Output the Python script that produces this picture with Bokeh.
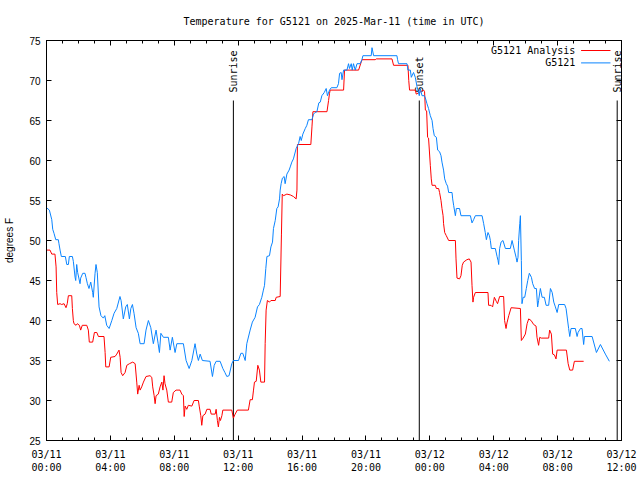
import math
from bokeh.plotting import figure
from bokeh.models import LinearAxis, FixedTicker, Range1d, Label, Arrow
from bokeh.core.properties import value
from bokeh.embed import file_html
from bokeh.resources import INLINE

# Hours since 2025-03-11 00:00 UTC
obs_hours = [0.00, 0.18, 0.33, 0.39, 0.47, 0.58, 0.74, 0.78, 0.85, 0.93, 1.18, 1.27, 1.37, 1.43, 1.62, 1.68,
             1.79, 1.83, 1.89, 1.95, 2.10, 2.14, 2.27, 2.41, 2.47, 2.56, 2.66, 2.77, 2.89, 2.93, 3.04, 3.10,
             3.18, 3.29, 3.41, 3.56, 3.65, 3.77, 3.92, 4.09, 4.23, 4.40, 4.60, 4.67, 4.81, 4.96, 5.06, 5.19,
             5.28, 5.38, 5.48, 5.61, 5.75, 5.86, 6.11, 6.23, 6.38, 6.53, 6.69, 6.86, 6.99, 7.07, 7.16, 7.32,
             7.63, 7.74, 7.88, 8.05, 8.16, 8.57, 8.74, 8.93, 9.10, 9.30, 9.41, 9.51, 9.62, 9.76, 10.24, 10.39,
             10.50, 10.62, 10.87, 11.04, 11.17, 11.29, 11.43, 11.60, 11.70, 12.02, 12.17, 12.29, 12.44, 12.54,
             12.75, 12.89, 13.06, 13.21, 13.33, 13.48, 13.58, 13.65, 13.73, 13.80, 13.96, 14.05, 14.15, 14.21,
             14.32, 14.42, 14.50, 14.59, 14.63, 14.69, 14.77, 14.88, 14.94, 15.05, 15.19, 15.26, 15.36, 15.46,
             15.63, 15.78, 15.88, 15.95, 16.05, 16.20, 16.30, 16.40, 16.62, 16.72, 16.82, 16.93, 17.05, 17.14,
             17.24, 17.39, 17.51, 17.59, 17.72, 17.83, 18.18, 18.28, 18.35, 18.45, 18.50, 18.60, 18.81, 18.91,
             18.97, 19.08, 19.14, 19.22, 19.33, 19.44, 19.64, 19.75, 19.81, 20.33, 20.38, 20.48, 21.94, 21.98,
             22.04, 22.57, 22.63, 22.78, 22.84, 22.98, 23.09, 23.20, 23.26, 23.34, 23.40, 23.51, 23.65, 23.71,
             23.82, 23.92, 24.03, 24.14, 24.20, 24.28, 24.41, 24.49, 24.61, 24.70, 24.76, 24.86, 24.93, 25.03,
             25.11, 25.18, 25.39, 25.43, 25.49, 25.60, 25.66, 25.86, 25.95, 26.54, 26.64, 26.74, 26.85, 27.27,
             27.37, 27.47, 27.54, 27.64, 27.73, 27.79, 27.85, 28.10, 28.21, 28.27, 28.31, 28.37, 28.46, 28.58,
             28.73, 29.04, 29.15, 29.29, 29.40, 29.46, 29.52, 29.56, 29.63, 29.67, 29.73, 29.77, 29.84, 29.94,
             30.04, 30.13, 30.23, 30.36, 30.44, 30.56, 30.67, 30.75, 30.81, 30.92, 31.03, 31.17, 31.28, 31.44,
             31.55, 31.66, 31.76, 31.86, 31.97, 32.07, 32.44, 32.53, 32.69, 32.76, 32.84, 33.11, 33.22, 33.28,
             33.43, 33.53, 33.63, 33.68, 34.16, 34.43, 34.68, 34.99, 35.24]
obs_temp = [54.1, 53.8, 52.6, 51.4, 50.9, 50.1, 50.1, 49.6, 48.8, 48.0, 48.0, 47.0, 47.0, 48.0, 48.0, 47.4,
            45.4, 45.0, 47.0, 46.0, 44.6, 45.3, 45.9, 45.9, 45.4, 44.6, 44.0, 44.8, 43.5, 42.9, 45.9, 47.0,
            46.0, 41.7, 40.6, 40.3, 40.6, 39.4, 39.0, 40.0, 40.9, 41.5, 43.0, 42.5, 40.2, 41.7, 42.0, 40.2,
            41.5, 42.0, 40.9, 39.1, 38.4, 37.1, 37.1, 38.8, 40.0, 39.1, 37.1, 38.8, 37.1, 36.0, 38.4, 37.9,
            37.9, 36.3, 37.9, 36.0, 37.1, 37.1, 35.0, 34.0, 35.0, 37.1, 35.8, 35.0, 35.8, 35.0, 34.9, 33.0,
            34.4, 34.9, 34.9, 34.0, 33.5, 33.0, 33.1, 34.6, 35.0, 35.0, 35.9, 35.9, 35.0, 37.1,
            38.8, 39.8, 40.4, 41.7, 42.0, 42.9, 43.8, 44.4, 46.5, 48.0, 48.1, 49.2, 49.8, 51.5,
            52.5, 54.0, 54.2, 55.2, 56.3, 57.1, 57.8, 58.0, 57.1, 58.3, 58.8, 59.2, 59.8, 60.2,
            61.5, 62.1, 63.0, 62.5, 63.3, 64.0, 64.4, 65.1, 65.1, 65.8, 66.0, 66.1, 67.2, 67.3,
            68.1, 68.5, 69.0, 68.1, 68.8, 69.1, 69.1, 69.6, 70.9, 71.0, 70.1, 71.3, 71.3, 72.1,
            71.5, 72.1, 71.3, 72.1, 71.3, 72.1, 72.1, 72.6, 73.1, 73.1, 74.1, 73.1, 73.1, 72.6,
            72.1, 72.1, 71.3, 71.3, 70.4, 71.0, 70.4, 69.2, 68.8, 68.1, 69.0, 68.1, 68.1, 67.9,
            67.1, 66.5, 65.6, 65.0, 64.0, 63.1, 62.9, 61.3, 61.1, 60.6, 59.8, 58.8, 57.7, 57.1,
            56.8, 56.0, 56.0, 55.2, 54.4, 53.1, 54.0, 54.0, 53.1, 53.1, 52.2, 52.6, 53.1, 53.1,
            52.1, 51.0, 50.1, 51.0, 50.6, 50.0, 49.0, 49.0, 48.0, 47.5, 47.0, 49.0, 49.8, 50.0,
            49.0, 49.0, 50.0, 48.8, 47.9, 47.3, 47.9, 50.0, 52.1, 53.1, 47.5, 42.1, 42.9, 42.9,
            44.0, 45.0, 45.9, 45.4, 44.6, 44.0, 44.0, 41.7, 42.5, 44.0, 42.9, 42.9, 41.9, 41.9,
            44.0, 43.5, 42.3, 41.7, 41.0, 42.0, 42.0, 41.5, 39.0, 38.0, 39.0, 39.0, 38.0, 38.5,
            39.0, 39.0, 37.0, 38.0, 38.0, 36.0, 37.0, 35.8, 34.9]

ana_hours = [0.00, 0.22, 0.33, 0.53, 0.60, 0.64, 0.70, 0.85, 0.95, 1.10, 1.22, 1.30, 1.37, 1.58, 1.62, 1.68,
             1.72, 1.85, 1.93, 2.06, 2.14, 2.24, 2.52, 2.62, 2.68, 2.89, 3.00, 3.15, 3.25, 3.60, 3.67, 3.71,
             3.92, 4.02, 4.29, 4.40, 4.54, 4.61, 4.67, 4.77, 4.92, 5.03, 5.19, 5.40, 5.55, 5.65, 5.71, 5.80,
             5.86, 5.96, 6.07, 6.23, 6.48, 6.59, 6.65, 6.74, 6.80, 6.86, 7.00, 7.11, 7.22, 7.29, 7.36, 7.42,
             7.53, 7.63, 7.84, 7.94, 8.11, 8.36, 8.47, 8.57, 8.62, 8.68, 8.78, 8.88, 9.10, 9.24, 9.51, 9.57,
             9.66, 9.72, 9.79, 9.93, 10.04, 10.24, 10.31, 10.56, 10.62, 10.70, 10.76, 10.83, 10.89, 10.98,
             11.04, 11.60, 11.70, 11.81, 11.95, 12.64, 12.75, 12.89, 12.96, 13.02, 13.13, 13.23, 13.33, 13.42,
             13.65, 13.69, 13.75, 13.83, 13.96, 14.05, 14.32, 14.38, 14.63, 14.71, 14.76, 14.84, 15.05, 15.26,
             15.46, 15.63, 15.68, 15.71, 16.55, 16.62, 16.68, 17.56, 17.66, 17.72, 17.76, 18.60, 18.66, 19.54,
             19.75, 20.58, 20.65, 21.63, 21.73, 22.63, 22.68, 22.73, 23.09, 23.15, 23.61, 23.67, 23.72, 23.80,
             23.86, 23.92, 24.03, 24.09, 24.14, 24.34, 24.41, 24.55, 24.61, 24.70, 24.76, 24.83, 24.86, 24.93,
             25.03, 25.18, 25.60, 25.64, 25.70, 25.86, 25.95, 26.03, 26.11, 26.32, 26.47, 26.58, 26.64, 26.70,
             26.74, 26.85, 27.64, 27.68, 27.83, 27.93, 28.04, 28.16, 28.24, 28.37, 28.62, 28.68, 28.77, 28.83,
             28.94, 29.09, 29.67, 29.73, 29.84, 29.98, 30.09, 30.19, 30.34, 30.50, 30.65, 30.71, 30.81, 30.88,
             30.97, 31.44, 31.50, 31.61, 31.69, 31.80, 31.90, 31.97, 32.55, 32.66, 32.76, 32.94, 33.05, 33.63]
ana_temp = [48.8, 48.8, 48.3, 48.3, 46.7, 43.5, 42.0, 42.1, 42.0, 42.1, 41.6, 42.1, 43.1, 43.1, 41.5, 40.0,
            39.6, 39.4, 39.6, 39.4, 38.8, 39.4, 39.4, 38.8, 37.3, 37.3, 38.5, 38.5, 38.0, 38.0, 36.0, 34.2,
            34.2, 35.4, 35.5, 35.8, 36.3, 35.4, 33.5, 33.1, 33.5, 34.4, 34.6, 34.8, 34.6, 32.3, 30.8, 31.9,
            31.3, 31.7, 32.3, 33.0, 33.1, 32.9, 31.7, 30.6, 29.6, 30.6, 30.8, 31.7, 32.3, 31.3, 33.1, 32.1,
            31.3, 29.8, 29.8, 31.0, 31.3, 31.3, 30.8, 30.6, 28.0, 29.3, 28.9, 29.4, 29.3, 30.0, 30.0, 29.2,
            28.1, 26.9, 28.1, 28.3, 28.9, 28.9, 28.3, 28.3, 28.9, 27.5, 26.7, 27.9, 27.5, 28.1,
            28.8, 28.8, 27.8, 28.3, 28.8, 28.8, 30.1, 30.1, 31.3, 32.3, 32.4, 34.4, 33.8, 32.3,
            32.3, 37.1, 41.3, 42.5, 42.3, 42.5, 42.5, 42.9, 43.0, 50.8, 55.8, 55.6, 55.8, 55.7,
            55.5, 55.2, 56.3, 62.0, 62.0, 64.2, 66.1, 66.1, 67.5, 68.4, 68.8, 68.8, 71.3, 71.3,
            72.6, 72.6, 72.7, 72.7, 71.9, 71.9, 70.0, 68.8, 68.8, 68.3, 68.8, 68.6, 66.3, 66.2,
            62.9, 62.8, 59.4, 57.7, 56.9, 56.9, 56.5, 56.5, 56.0, 55.0, 54.0, 53.1, 52.1, 51.0,
            50.6, 50.0, 50.0, 47.7, 45.3, 45.2, 45.6, 46.9, 47.3, 47.6, 47.7, 47.3, 44.4, 42.3,
            42.9, 43.5, 43.5, 41.9, 41.9, 41.7, 42.9, 42.4, 42.1, 43.0, 43.0, 40.0, 39.0, 39.7,
            40.6, 41.6, 41.5, 37.5, 37.8, 38.3, 39.6, 40.2, 40.0, 39.5, 39.3, 37.9, 36.9, 37.9,
            37.8, 37.8, 38.8, 38.3, 35.8, 35.7, 35.2, 36.3, 36.3, 34.6, 33.8, 33.8, 34.9, 34.9]

tick_hours = [0, 4, 8, 12, 16, 20, 24, 28, 32, 36]
tick_labels = ["03/11\n00:00", "03/11\n04:00", "03/11\n08:00", "03/11\n12:00", "03/11\n16:00",
               "03/11\n20:00", "03/12\n00:00", "03/12\n04:00", "03/12\n08:00", "03/12\n12:00"]
y_ticks = [25, 30, 35, 40, 45, 50, 55, 60, 65, 70, 75]
sun_hours = [11.70, 23.34, 35.73]
sun_names = ["Sunrise", "Sunset", "Sunrise"]
series_names = ["G5121 Analysis", "G5121"]
series_colors = ["#ff0000", "#0a84ff"]

MONO = "DejaVu Sans Mono"
SANS = "Liberation Sans"

p = figure(width=640, height=480, output_backend="svg", toolbar_location=None,
           x_range=Range1d(0, 36), y_range=Range1d(25, 75),
           x_axis_type=None, y_axis_type=None,
           min_border_left=46, min_border_right=19, min_border_top=40, min_border_bottom=40)
p.background_fill_color = "white"
p.border_fill_color = "white"
p.outline_line_color = "black"
p.outline_line_width = 1
p.title.text = "Temperature for G5121 on 2025-Mar-11 (time in UTC)"
p.title.text_font = MONO
p.title.text_font_size = "10px"
p.title.text_font_style = "normal"
p.title.text_color = "black"
p.title.align = "center"
p.title.standoff = 27

xticker = FixedTicker(ticks=tick_hours, minor_ticks=list(range(0, 37)))
yticker = FixedTicker(ticks=y_ticks, minor_ticks=[])

def style_axis(ax, show_labels):
    ax.axis_line_color = "black"
    ax.major_tick_line_color = "black"
    ax.minor_tick_line_color = "black"
    ax.major_tick_in = 5
    ax.major_tick_out = 0
    ax.minor_tick_in = 3
    ax.minor_tick_out = 0
    ax.major_label_text_color = "black"
    ax.axis_label_text_color = "black"
    if not show_labels:
        ax.major_label_text_font_size = "1px"
        ax.major_label_text_color = None
        ax.major_label_standoff = 0

xb = LinearAxis(ticker=xticker)
style_axis(xb, True)
xb.major_label_overrides = {h: t for h, t in zip(tick_hours, tick_labels)}
xb.major_label_text_font = MONO
xb.major_label_text_font_size = "10px"
xb.major_label_standoff = 8
p.add_layout(xb, "below")

xt = LinearAxis(ticker=xticker)
style_axis(xt, False)
p.add_layout(xt, "above")

yl = LinearAxis(ticker=yticker, axis_label="degrees F")
style_axis(yl, True)
yl.major_label_text_font = SANS
yl.major_label_text_font_size = "10px"
yl.major_label_standoff = 6
yl.axis_label_text_font = SANS
yl.axis_label_text_font_size = "10px"
yl.axis_label_text_font_style = "normal"
yl.axis_label_standoff = 11
p.add_layout(yl, "left")

yr = LinearAxis(ticker=yticker)
style_axis(yr, False)
p.add_layout(yr, "right")

# sunrise / sunset markers
p.segment(x0=sun_hours, y0=[67.5] * 3, x1=sun_hours, y1=[25] * 3, line_color="black", line_width=1)
p.text(x=sun_hours, y=[68.5] * 3, text=sun_names, angle=math.pi / 2,
       text_align="left", text_baseline="middle", text_font=value(MONO),
       text_font_size="10px", text_color="black")

p.line(ana_hours, ana_temp, line_color=series_colors[0], line_width=1)
p.line(obs_hours, obs_temp, line_color=series_colors[1], line_width=1)

# key (gnuplot-style: text then sample)
key_y = [73.75, 72.2]
for name, col, ky in zip(series_names, series_colors, key_y):
    p.add_layout(Label(x=33.11, y=ky, text=name, text_align="right", text_baseline="middle",
                       text_font=MONO, text_font_size="10px", text_color="black"))
    p.add_layout(Arrow(end=None, x_start=33.47, y_start=ky, x_end=35.31, y_end=ky,
                       line_color=col, line_width=1))

open("out.html", "w").write(file_html(p, INLINE))
